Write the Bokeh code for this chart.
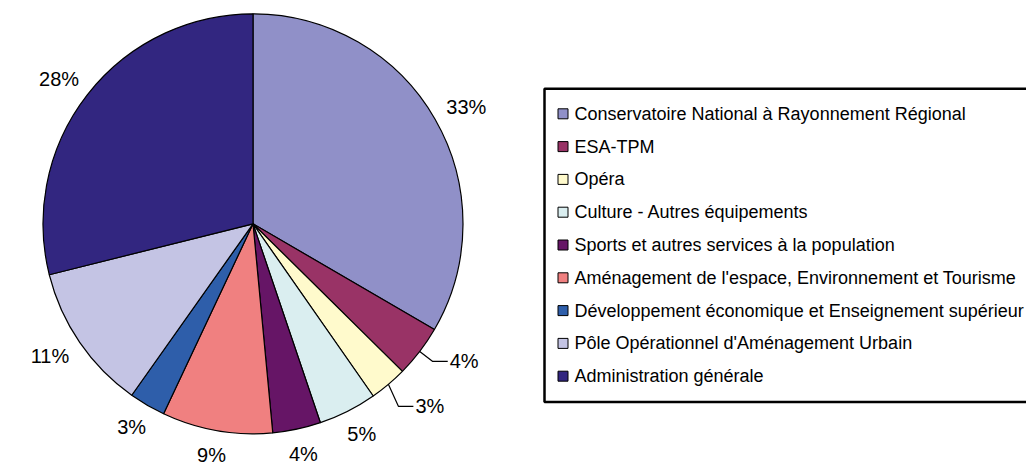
import math
from bokeh.plotting import figure
from bokeh.models import Range1d
from bokeh.core.properties import value
from bokeh.embed import file_html
from bokeh.resources import INLINE

# ---- data ----
categories = [
    "Conservatoire National à Rayonnement Régional",
    "ESA-TPM",
    "Opéra",
    "Culture - Autres équipements",
    "Sports et autres services à la population",
    "Aménagement de l'espace, Environnement et Tourisme",
    "Développement économique et Enseignement supérieur",
    "Pôle Opérationnel d'Aménagement Urbain",
    "Administration générale",
]
shares = [33.4, 4.0, 2.9, 4.5, 3.7, 8.5, 2.8, 11.3, 28.9]
pct_labels = ["33%", "4%", "3%", "5%", "4%", "9%", "3%", "11%", "28%"]
colors = ["#9090C8", "#993366", "#FFFACC", "#DAEEF0", "#661566",
          "#F08080", "#2E5EAA", "#C4C4E4", "#322680"]

# ---- layout (screen pixel coordinates of the 1026x466 window) ----
W, H = 1026, 466
def Y(sy):  # screen y -> data y
    return H - sy

CX, CY, R = 252.5, 223.3, 210
FONT = value("Liberation Sans")

p = figure(width=W, height=H,
           x_range=Range1d(0, W), y_range=Range1d(0, H),
           output_backend="svg", toolbar_location=None,
           x_axis_type=None, y_axis_type=None, min_border=0)
p.grid.visible = False
p.outline_line_color = None
p.background_fill_color = "white"
p.border_fill_color = "white"

total = sum(shares)
starts, ends, mids = [], [], []
cum = 0.0
for s in shares:
    a0 = cum / total
    cum += s
    a1 = cum / total
    # clockwise from 12 o'clock -> math angles
    starts.append(math.pi / 2 - 2 * math.pi * a1)
    ends.append(math.pi / 2 - 2 * math.pi * a0)
    mids.append(math.pi / 2 - 2 * math.pi * (a0 + a1) / 2)

p.wedge(x=[CX] * len(shares), y=[Y(CY)] * len(shares), radius=R,
        start_angle=starts, end_angle=ends, direction="anticlock",
        fill_color=colors, line_color="black", line_width=1.2)

# percentage labels
G, HW, HH = 16, 15, 9
leader = {1: (13, 10, 15), 2: (10, 22, 15)}  # elbow dx, dy(down), horizontal len
cx_l, cy_l, tx_l = [], [], []
for i, (m, lab) in enumerate(zip(mids, pct_labels)):
    c, s = math.cos(m), math.sin(m)
    if i in leader:
        ex, ey, hl = leader[i]
        sx = CX + R * c
        sy = CY - R * s
        bx, by = sx + ex, sy + ey
        p.line([sx, bx, bx + hl], [Y(sy), Y(by), Y(by)], line_color="black", line_width=1.2)
        p.text(x=[bx + hl + 2], y=[Y(by)], text=[lab], text_align="left",
               text_baseline="middle", text_font=FONT, text_font_size="20px",
               text_color="black")
    else:
        hw = HW + 5 * (len(lab) - 2)
        lx = CX + (R + G) * c + hw * c
        ly = CY - (R + G) * s - HH * s
        ly = min(ly, H - 11)
        cx_l.append(lx)
        cy_l.append(Y(ly))
        tx_l.append(lab)
p.text(x=cx_l, y=cy_l, text=tx_l, text_align="center", text_baseline="middle",
       text_font=FONT, text_font_size="20px", text_color="black")

# legend box
LX0, LY0, LY1 = 544, 88.3, 401.5
p.quad(left=[LX0], right=[W + 20], top=[Y(LY0)], bottom=[Y(LY1)],
       fill_color="white", line_color="black", line_width=2.5)

ROW0, DROW = 113.3, 32.8
rows = [ROW0 + DROW * i for i in range(len(categories))]
p.scatter(x=[562.5] * len(categories), y=[Y(r) for r in rows], marker="square",
          size=10, fill_color=colors, line_color="black", line_width=1)
p.text(x=[574] * len(categories), y=[Y(r) for r in rows], text=categories,
       text_align="left", text_baseline="middle", text_font=FONT,
       text_font_size="18px", text_color="black")

open("out.html", "w").write(file_html(p, INLINE))
